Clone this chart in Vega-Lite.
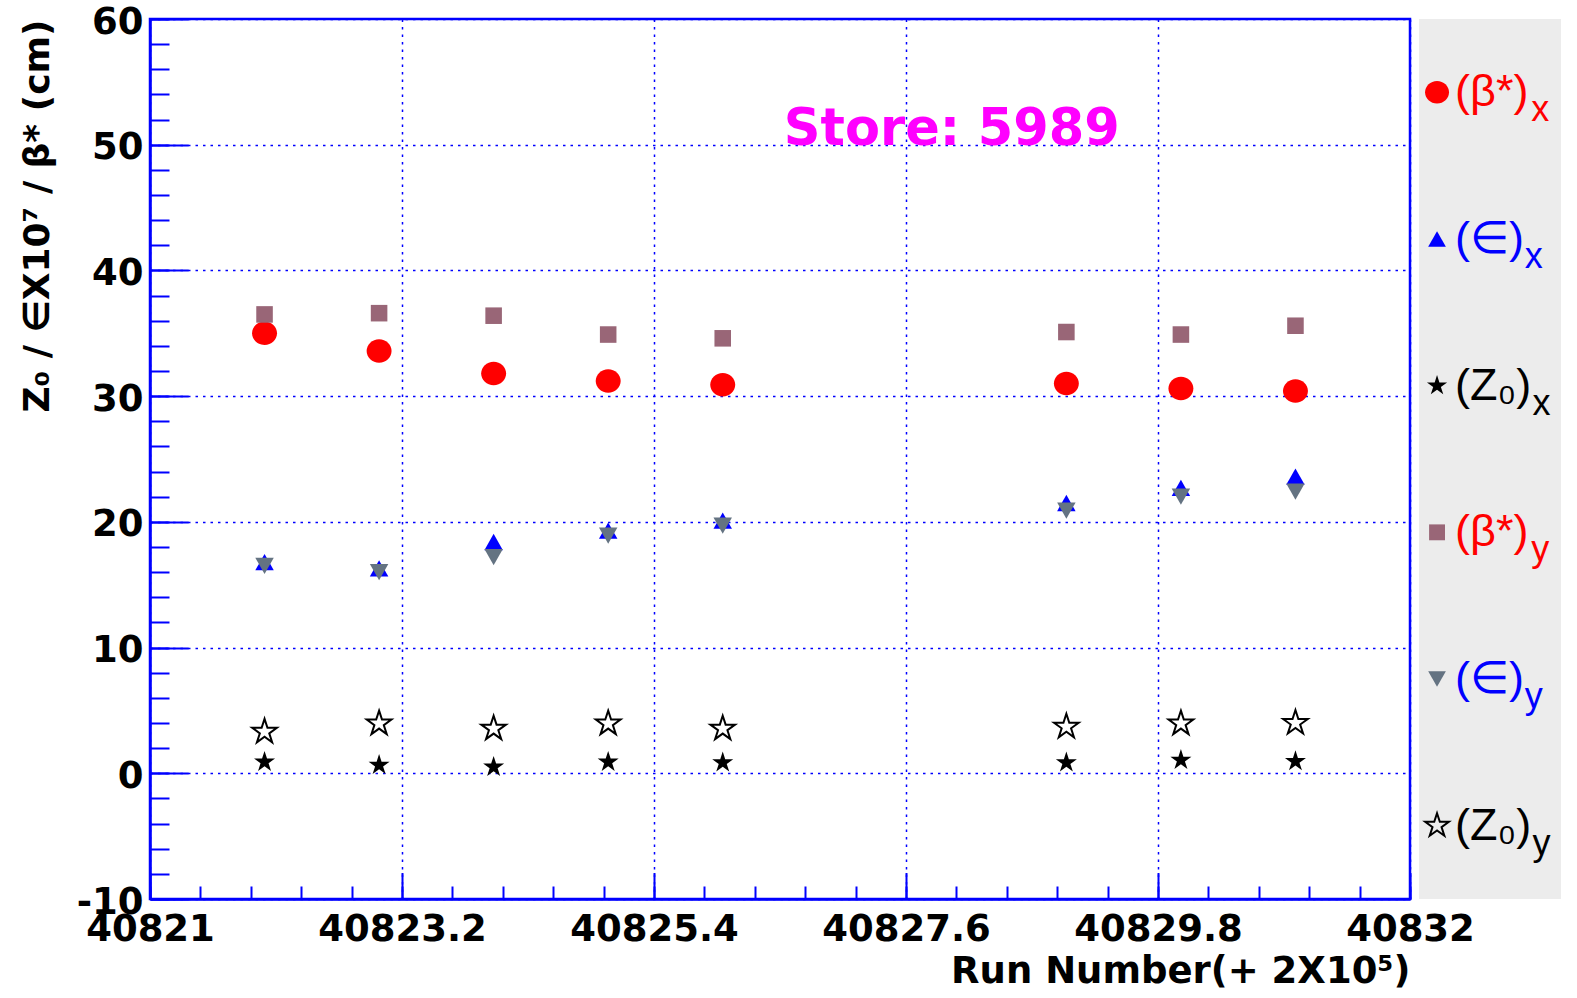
{
  "$schema": "https://vega.github.io/schema/vega-lite/v6.json",
  "background": "white",
  "padding": {"left": 17, "top": 1, "right": 0, "bottom": 0},
  "bounds": "flush",
  "spacing": 9,
  "config": {"font": "DejaVu Sans", "view": {"stroke": null}},
  "resolve": {"scale": {"x": "independent", "y": "independent", "shape": "shared", "fill": "shared", "stroke": "shared"}},
  "datasets": {
    "points": [
      {"run": 40822, "series": "beta_x", "value": 35.0},
      {"run": 40823, "series": "beta_x", "value": 33.6},
      {"run": 40824, "series": "beta_x", "value": 31.8},
      {"run": 40825, "series": "beta_x", "value": 31.2},
      {"run": 40826, "series": "beta_x", "value": 30.9},
      {"run": 40829, "series": "beta_x", "value": 31.0},
      {"run": 40830, "series": "beta_x", "value": 30.6},
      {"run": 40831, "series": "beta_x", "value": 30.4},
      {"run": 40822, "series": "beta_y", "value": 36.5},
      {"run": 40823, "series": "beta_y", "value": 36.6},
      {"run": 40824, "series": "beta_y", "value": 36.4},
      {"run": 40825, "series": "beta_y", "value": 34.9},
      {"run": 40826, "series": "beta_y", "value": 34.6},
      {"run": 40829, "series": "beta_y", "value": 35.1},
      {"run": 40830, "series": "beta_y", "value": 34.9},
      {"run": 40831, "series": "beta_y", "value": 35.6},
      {"run": 40822, "series": "eps_x", "value": 16.8},
      {"run": 40823, "series": "eps_x", "value": 16.3},
      {"run": 40824, "series": "eps_x", "value": 18.4},
      {"run": 40825, "series": "eps_x", "value": 19.3},
      {"run": 40826, "series": "eps_x", "value": 20.1},
      {"run": 40829, "series": "eps_x", "value": 21.5},
      {"run": 40830, "series": "eps_x", "value": 22.7},
      {"run": 40831, "series": "eps_x", "value": 23.6},
      {"run": 40822, "series": "eps_y", "value": 16.5},
      {"run": 40823, "series": "eps_y", "value": 16.0},
      {"run": 40824, "series": "eps_y", "value": 17.2},
      {"run": 40825, "series": "eps_y", "value": 18.9},
      {"run": 40826, "series": "eps_y", "value": 19.7},
      {"run": 40829, "series": "eps_y", "value": 20.9},
      {"run": 40830, "series": "eps_y", "value": 22.0},
      {"run": 40831, "series": "eps_y", "value": 22.4},
      {"run": 40822, "series": "z0_x", "value": 0.9},
      {"run": 40823, "series": "z0_x", "value": 0.65},
      {"run": 40824, "series": "z0_x", "value": 0.5},
      {"run": 40825, "series": "z0_x", "value": 0.9},
      {"run": 40826, "series": "z0_x", "value": 0.85},
      {"run": 40829, "series": "z0_x", "value": 0.85},
      {"run": 40830, "series": "z0_x", "value": 1.05},
      {"run": 40831, "series": "z0_x", "value": 0.95},
      {"run": 40822, "series": "z0_y", "value": 3.3},
      {"run": 40823, "series": "z0_y", "value": 3.95},
      {"run": 40824, "series": "z0_y", "value": 3.55},
      {"run": 40825, "series": "z0_y", "value": 3.95},
      {"run": 40826, "series": "z0_y", "value": 3.55},
      {"run": 40829, "series": "z0_y", "value": 3.7},
      {"run": 40830, "series": "z0_y", "value": 3.95},
      {"run": 40831, "series": "z0_y", "value": 4.0}
    ],
    "legend": [
      {"series": "beta_x", "grp": "beta", "main": "(β*)", "sub": "x"},
      {"series": "eps_x", "grp": "eps", "main": "(∈)", "sub": "x"},
      {"series": "z0_x", "grp": "z", "main": "(Z₀)", "sub": "x"},
      {"series": "beta_y", "grp": "beta", "main": "(β*)", "sub": "y"},
      {"series": "eps_y", "grp": "eps", "main": "(∈)", "sub": "y"},
      {"series": "z0_y", "grp": "z", "main": "(Z₀)", "sub": "y"}
    ],
    "store": [{"run": 40828, "value": 50.0, "label": "Store: 5989"}]
  },
  "hconcat": [
    {
      "width": 1260,
      "height": 880,
      "view": {"stroke": "#0000ff", "strokeWidth": 2.5},
      "resolve": {"axis": {"x": "independent", "y": "independent"}},
      "layer": [
        {
          "data": {"name": "points"},
          "mark": {"type": "point", "filled": true, "size": 144, "opacity": 1, "strokeWidth": 2},
          "encoding": {
            "x": {
              "field": "run", "type": "quantitative",
              "scale": {"domain": [40821, 40832], "nice": false, "zero": false},
              "axis": {
                "orient": "bottom",
                "values": [40821, 40823.2, 40825.4, 40827.6, 40829.8, 40832],
                "labelExpr": "'' + datum.value",
                "labelFont": "DejaVu Sans", "labelFontWeight": "bold", "labelFontSize": 37, "labelColor": "#000000",
                "labelPadding": 12, "labelFlush": false, "labelOverlap": false, "labelBaseline": "top",
                "ticks": false,
                "domain": true, "domainColor": "#0000ff", "domainWidth": 2.5,
                "grid": true, "gridColor": "#0000ff", "gridDash": [2.5, 5], "gridWidth": 1.5, "gridOpacity": 1,
                "title": "Run Number(+ 2X10⁵)",
                "titleFont": "DejaVu Sans", "titleFontWeight": "bold", "titleFontSize": 37, "titleColor": "#000000",
                "titleAnchor": "end", "titlePadding": 6
              }
            },
            "y": {
              "field": "value", "type": "quantitative",
              "scale": {"domain": [-10, 60], "nice": false, "zero": false},
              "axis": {
                "orient": "left",
                "values": [-10, 0, 10, 20, 30, 40, 50, 60],
                "labelExpr": "'' + datum.value",
                "labelFont": "DejaVu Sans", "labelFontWeight": "bold", "labelFontSize": 37, "labelColor": "#000000",
                "labelPadding": 7, "labelFlush": false, "labelOverlap": false, "labelOffset": 3,
                "ticks": false,
                "domain": true, "domainColor": "#0000ff", "domainWidth": 2.5,
                "grid": true, "gridColor": "#0000ff", "gridDash": [2.5, 5], "gridWidth": 1.5, "gridOpacity": 1,
                "title": "Z₀ / ∈X10⁷ / β* (cm)",
                "titleFont": "DejaVu Sans", "titleFontWeight": "bold", "titleFontSize": 36, "titleColor": "#000000",
                "titleAnchor": "end", "titlePadding": 20
              }
            },
            "shape": {
              "field": "series", "type": "nominal", "legend": null,
              "scale": {
                "domain": ["beta_x", "eps_x", "z0_x", "beta_y", "eps_y", "z0_y"],
                "range": [
                  "M-1.04,0A1.04,0.98,0,1,1,1.04,0A1.04,0.98,0,1,1,-1.04,0Z",
                  "M0,-0.68L0.77,0.68L-0.77,0.68Z",
                  "M0,-0.92L0.2065,-0.284L0.875,-0.284L0.334,0.1086L0.541,0.744L0,0.351L-0.541,0.744L-0.334,0.1086L-0.875,-0.284L-0.2065,-0.284Z",
                  "M-0.69,-0.69H0.69V0.69H-0.69Z",
                  "M0,0.68L0.77,-0.68L-0.77,-0.68Z",
                  "M0,-1.08L0.2425,-0.334L1.027,-0.334L0.392,0.1274L0.635,0.874L0,0.4126L-0.635,0.874L-0.392,0.1274L-1.027,-0.334L-0.2425,-0.334Z"
                ]
              }
            },
            "fill": {
              "field": "series", "type": "nominal", "legend": null,
              "scale": {
                "domain": ["beta_x", "eps_x", "z0_x", "beta_y", "eps_y", "z0_y"],
                "range": ["#ff0000", "#0000ff", "#000000", "#996677", "#647382", "transparent"]
              }
            },
            "stroke": {
              "field": "series", "type": "nominal", "legend": null,
              "scale": {
                "domain": ["beta_x", "eps_x", "z0_x", "beta_y", "eps_y", "z0_y"],
                "range": ["transparent", "transparent", "transparent", "transparent", "transparent", "#000000"]
              }
            },
            "size": {"value": 576}
          }
        },
        {
          "data": {"name": "store"},
          "mark": {"type": "text", "font": "DejaVu Sans", "fontWeight": "bold", "fontSize": 51, "color": "#ff00ff", "align": "center", "baseline": "alphabetic"},
          "encoding": {
            "x": {
              "field": "run", "type": "quantitative",
              "axis": {"orient": "bottom", "values": [40821, 40823.2, 40825.4, 40827.6, 40829.8, 40832], "labels": false, "domain": false, "grid": false, "ticks": true, "tickSize": -26.5, "tickColor": "#0000ff", "tickWidth": 2, "title": null}
            },
            "y": {
              "field": "value", "type": "quantitative",
              "axis": {"orient": "left", "values": [-10, 0, 10, 20, 30, 40, 50, 60], "labels": false, "domain": false, "grid": false, "ticks": true, "tickSize": -38, "tickColor": "#0000ff", "tickWidth": 2, "title": null}
            },
            "text": {"field": "label"}
          }
        },
        {
          "data": {"name": "store"},
          "mark": {"type": "text", "fontSize": 1},
          "encoding": {
            "x": {
              "field": "run", "type": "quantitative",
              "axis": {"orient": "bottom", "values": [40821, 40821.44, 40821.88, 40822.32, 40822.76, 40823.2, 40823.64, 40824.08, 40824.52, 40824.96, 40825.4, 40825.84, 40826.28, 40826.72, 40827.16, 40827.6, 40828.04, 40828.48, 40828.92, 40829.36, 40829.8, 40830.24, 40830.68, 40831.12, 40831.56, 40832], "labels": false, "domain": false, "grid": false, "ticks": true, "tickSize": -13, "tickColor": "#0000ff", "tickWidth": 2, "title": null}
            },
            "y": {
              "field": "value", "type": "quantitative",
              "axis": {"orient": "left", "values": [-10, -8, -6, -4, -2, 0, 2, 4, 6, 8, 10, 12, 14, 16, 18, 20, 22, 24, 26, 28, 30, 32, 34, 36, 38, 40, 42, 44, 46, 48, 50, 52, 54, 56, 58, 60], "labels": false, "domain": false, "grid": false, "ticks": true, "tickSize": -19, "tickColor": "#0000ff", "tickWidth": 2, "title": null}
            },
            "text": {"value": ""}
          }
        }
      ]
    },
    {
      "width": 142,
      "height": 880,
      "view": {"fill": "#ececec", "stroke": null},
      "data": {"name": "legend"},
      "encoding": {
        "y": {
          "field": "series", "type": "nominal", "axis": null,
          "scale": {"type": "point", "domain": ["beta_x", "eps_x", "z0_x", "beta_y", "eps_y", "z0_y"], "padding": 0.5}
        }
      },
      "layer": [
        {
          "mark": {"type": "point", "filled": true, "size": 530, "opacity": 1, "strokeWidth": 2},
          "encoding": {
            "x": {"datum": 0.127, "type": "quantitative", "scale": {"domain": [0, 1], "nice": false, "zero": false}, "axis": null},
            "shape": {"field": "series", "type": "nominal", "legend": null},
            "fill": {"field": "series", "type": "nominal", "legend": null},
            "stroke": {"field": "series", "type": "nominal", "legend": null}
          }
        },
        {
          "mark": {"type": "text", "font": "Liberation Sans", "fontSize": 45, "align": "left", "baseline": "middle"},
          "encoding": {
            "x": {"datum": 0.254, "type": "quantitative"},
            "text": {"field": "main"},
            "color": {"field": "grp", "type": "nominal", "legend": null, "scale": {"domain": ["beta", "eps", "z"], "range": ["#ff0000", "#0000ff", "#000000"]}}
          }
        },
        {
          "transform": [{"filter": "datum.grp == 'beta'"}],
          "mark": {"type": "text", "font": "Liberation Sans", "fontSize": 36, "align": "left", "baseline": "middle", "dy": 18},
          "encoding": {
            "x": {"datum": 0.79, "type": "quantitative"},
            "text": {"field": "sub"},
            "color": {"field": "grp", "type": "nominal", "legend": null}
          }
        },
        {
          "transform": [{"filter": "datum.grp == 'eps'"}],
          "mark": {"type": "text", "font": "Liberation Sans", "fontSize": 36, "align": "left", "baseline": "middle", "dy": 18},
          "encoding": {
            "x": {"datum": 0.745, "type": "quantitative"},
            "text": {"field": "sub"},
            "color": {"field": "grp", "type": "nominal", "legend": null}
          }
        },
        {
          "transform": [{"filter": "datum.grp == 'z'"}],
          "mark": {"type": "text", "font": "Liberation Sans", "fontSize": 36, "align": "left", "baseline": "middle", "dy": 18},
          "encoding": {
            "x": {"datum": 0.8, "type": "quantitative"},
            "text": {"field": "sub"},
            "color": {"field": "grp", "type": "nominal", "legend": null}
          }
        }
      ]
    }
  ]
}
